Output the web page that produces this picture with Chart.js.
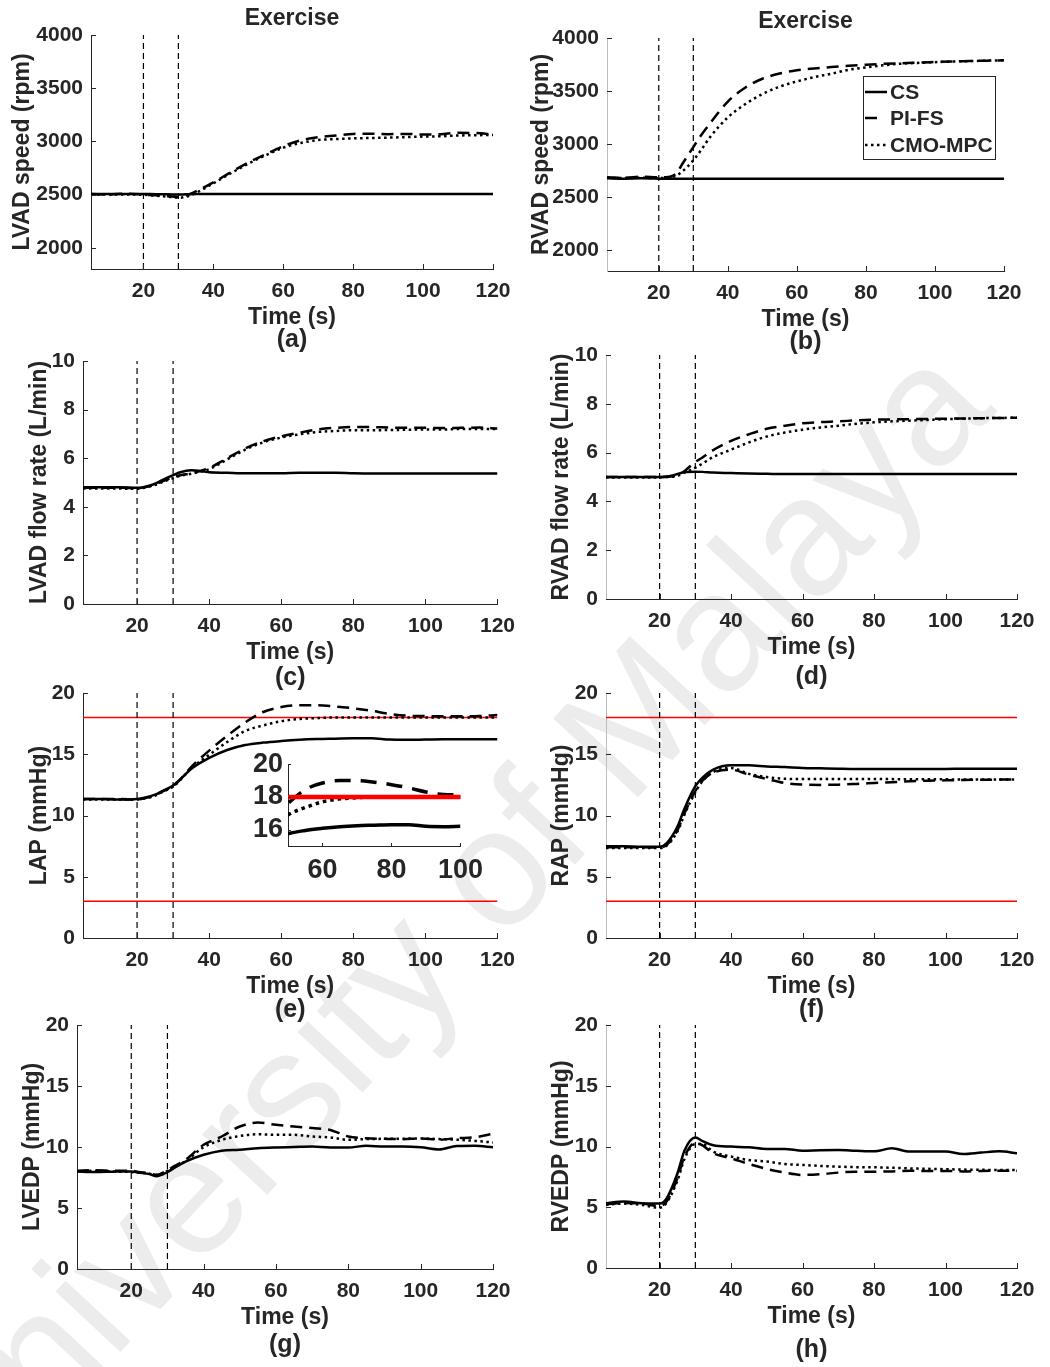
<!DOCTYPE html>
<html>
<head>
<meta charset="utf-8">
<script src="https://cdn.jsdelivr.net/npm/chart.js@4.4.0/dist/chart.umd.min.js"></script>
<style>
body { margin: 0; background: #fff; }
#page { position: relative; width: 1050px; height: 1367px; overflow: hidden; background: #fff; }
#page canvas { position: absolute; }
.wm {
  position: absolute; left: 440px; top: 925px;
  transform: translate(-50%, -50%) rotate(-47deg);
  font: 168px 'Liberation Sans', Arial, sans-serif;
  color: #ececec; white-space: nowrap;
}
</style>
</head>
<body>
<div id="page"><div class="wm">University of Malaya</div></div>
<script>
// time axis (s) and tick values
var time = [5,10,15,20,22,25,27,30,32,35,40,45,50,55,60,65,70,75,80,85,90,95,100,105,110,115,120];
var timeTicks = [20,40,60,80,100,120];
var speedTicks = [2000,2500,3000,3500,4000];
var flowTicks = [0,2,4,6,8,10];
var pressTicks = [0,5,10,15,20];
var insetTimeTicks = [60,80,100];
var insetPressTicks = [16,18,20];
var eventTimes = [20,30];
var atrialLimits = [3,18];
var seriesNames = ['CS','PI-FS','CMO-MPC'];

// (a) LVAD speed
var lvadSpeedCS  = [2505,2505,2506,2505,2504,2503,2502,2500,2502,2505,2505,2506,2505,2505,2505,2506,2506,2505,2505,2505,2506,2506,2505,2505,2505,2505,2505];
var lvadSpeedPI  = [2505,2500,2508,2500,2495,2490,2485,2478,2490,2530,2615,2710,2800,2880,2955,3010,3040,3055,3070,3072,3068,3070,3065,3068,3080,3078,3065];
var lvadSpeedMPC = [2500,2500,2500,2498,2492,2485,2480,2470,2478,2515,2605,2700,2790,2870,2940,2985,3012,3022,3028,3032,3035,3040,3045,3048,3055,3058,3060];
// (b) RVAD speed
var rvadSpeedCS  = [2675,2672,2675,2672,2670,2670,2670,2670,2670,2670,2670,2670,2670,2670,2670,2670,2671,2671,2671,2671,2670,2670,2670,2670,2670,2670,2670];
var rvadSpeedPI  = [2685,2680,2690,2685,2685,2720,2820,2970,3070,3200,3400,3530,3615,3665,3695,3712,3726,3738,3748,3756,3762,3768,3773,3778,3782,3786,3790];
var rvadSpeedMPC = [2680,2678,2680,2678,2680,2700,2745,2845,2930,3070,3250,3375,3470,3540,3590,3630,3663,3700,3722,3742,3757,3765,3772,3778,3782,3786,3790];
// (c) LVAD flow
var lvadFlowCS  = [4.8,4.8,4.8,4.78,4.82,4.95,5.1,5.3,5.42,5.5,5.42,5.4,5.38,5.38,5.38,5.4,5.4,5.4,5.38,5.37,5.37,5.37,5.37,5.37,5.37,5.37,5.37];
var lvadFlowPI  = [4.78,4.78,4.78,4.76,4.8,4.92,5.05,5.22,5.3,5.38,5.6,6.0,6.4,6.7,6.9,7.05,7.18,7.25,7.28,7.28,7.26,7.25,7.25,7.24,7.25,7.26,7.22];
var lvadFlowMPC = [4.75,4.75,4.75,4.74,4.78,4.9,5.02,5.18,5.27,5.36,5.55,5.95,6.35,6.65,6.85,6.98,7.08,7.12,7.15,7.15,7.16,7.17,7.18,7.18,7.2,7.2,7.2];
// (d) RVAD flow
var rvadFlowCS  = [5.0,5.0,5.0,5.0,5.02,5.12,5.2,5.22,5.21,5.18,5.16,5.14,5.13,5.12,5.12,5.12,5.12,5.12,5.12,5.12,5.12,5.12,5.12,5.12,5.12,5.12,5.12];
var rvadFlowPI  = [5.0,5.0,5.0,5.0,5.0,5.08,5.25,5.62,5.8,6.1,6.48,6.75,6.98,7.1,7.2,7.25,7.28,7.32,7.35,7.36,7.37,7.38,7.39,7.4,7.41,7.42,7.43];
var rvadFlowMPC = [4.98,4.98,4.98,4.98,5.0,5.05,5.18,5.38,5.55,5.82,6.12,6.42,6.66,6.82,6.94,7.03,7.1,7.18,7.24,7.28,7.31,7.34,7.37,7.39,7.41,7.42,7.43];
// (e) LAP
var lapCS  = [11.35,11.35,11.3,11.35,11.45,11.7,12.0,12.45,12.95,13.8,14.7,15.35,15.75,15.95,16.08,16.18,16.24,16.27,16.3,16.3,16.2,16.18,16.2,16.22,16.23,16.23,16.23];
var lapPI  = [11.35,11.35,11.35,11.3,11.4,11.65,11.95,12.4,12.95,13.95,15.3,16.5,17.6,18.45,18.85,19.0,19.0,18.9,18.75,18.55,18.3,18.15,18.12,18.1,18.1,18.12,18.2];
var lapMPC = [11.3,11.3,11.3,11.3,11.38,11.62,11.92,12.35,12.9,13.85,14.95,16.0,16.9,17.35,17.7,17.88,17.95,18.0,18.0,18.0,18.0,18.0,18.0,18.0,18.0,18.0,18.0];
// (f) RAP
var rapCS  = [7.5,7.5,7.45,7.45,7.75,9.1,10.6,12.4,13.1,13.75,14.1,14.1,14.0,13.95,13.88,13.85,13.82,13.8,13.8,13.8,13.8,13.8,13.8,13.82,13.82,13.82,13.82];
var rapPI  = [7.4,7.4,7.4,7.38,7.6,8.8,10.2,12.0,12.85,13.5,13.74,13.33,12.98,12.65,12.52,12.5,12.52,12.58,12.65,12.72,12.8,12.84,12.87,12.9,12.92,12.93,12.93];
var rapMPC = [7.35,7.35,7.35,7.35,7.55,8.7,10.1,11.9,12.8,13.55,13.88,13.4,13.14,13.0,12.98,12.98,12.98,12.98,12.98,12.97,12.96,12.95,12.95,12.94,12.94,12.93,12.93];
// (g) LVEDP
var lvedpCS  = [8.0,7.95,7.98,8.0,7.9,7.78,7.6,7.95,8.3,8.8,9.36,9.7,9.78,9.9,9.96,10.0,10.04,9.96,9.96,10.1,10.04,10.04,9.98,9.8,10.08,10.1,9.98];
var lvedpPI  = [8.05,8.1,8.05,8.05,7.95,7.85,7.72,8.1,8.45,8.95,10.18,10.86,11.68,12.0,11.82,11.68,11.55,11.4,10.86,10.72,10.67,10.64,10.7,10.6,10.72,10.8,11.08];
var lvedpMPC = [8.0,8.05,8.0,7.95,7.9,7.8,7.7,8.05,8.35,8.85,9.98,10.58,10.9,11.05,11.0,11.0,10.86,10.78,10.59,10.65,10.67,10.68,10.7,10.65,10.6,10.5,10.37];
// (h) RVEDP
var rvedpCS  = [5.33,5.47,5.33,5.3,5.75,7.8,9.7,10.75,10.45,10.1,9.99,9.93,9.8,9.8,9.66,9.7,9.71,9.65,9.6,9.85,9.58,9.58,9.58,9.38,9.5,9.6,9.45];
var rvedpPI  = [5.25,5.35,5.3,5.1,5.5,7.4,9.2,10.3,10.1,9.44,9.03,8.56,8.15,7.85,7.66,7.72,7.85,7.93,7.93,7.95,8.0,7.99,7.99,7.95,7.99,8.0,8.0];
var rvedpMPC = [5.2,5.3,5.2,4.95,5.4,7.2,9.0,10.2,10.2,9.58,9.17,8.89,8.76,8.56,8.48,8.4,8.34,8.3,8.29,8.25,8.2,8.16,8.13,8.1,8.08,8.07,8.07];

var INK = '#262626';
var FONT = "'Liberation Sans', Arial, sans-serif";
Chart.defaults.font.family = FONT;
Chart.defaults.font.weight = 'bold';
Chart.defaults.color = INK;

var page = document.getElementById('page');

function addCanvas(left, top, w, h) {
  var cv = document.createElement('canvas');
  cv.width = w; cv.height = h;
  cv.style.left = left + 'px'; cv.style.top = top + 'px';
  cv.style.width = w + 'px'; cv.style.height = h + 'px';
  page.appendChild(cv);
  return cv;
}

function xy(xs, ys) {
  return xs.map(function (x, i) { return { x: x, y: ys[i] }; });
}

function plain(v) { return String(v); }

function seriesSets(cs, pi, mpc, big) {
  var w = big ? 3.5 : 2.5;
  return [
    { label: seriesNames[0], data: xy(time, cs), borderColor: '#000', borderWidth: w },
    { label: seriesNames[1], data: xy(time, pi), borderColor: '#000', borderWidth: w, borderDash: big ? [16, 10] : [12, 7] },
    { label: seriesNames[2], data: xy(time, mpc), borderColor: '#000', borderWidth: w, borderDash: big ? [3.5, 4] : [2.5, 3.5] }
  ];
}

function straight(d) {
  d.cubicInterpolationMode = 'default';
  d.tension = 0;
  return d;
}

// inward tick marks, captions, heading and legend
var decor = {
  id: 'decor',
  afterDraw: function (chart, args, o) {
    var ctx = chart.ctx, a = chart.chartArea, xs = chart.scales.x, ys = chart.scales.y;
    ctx.save();
    ctx.strokeStyle = INK;
    ctx.lineWidth = 1;
    ctx.beginPath();
    xs.ticks.forEach(function (t) {
      var px = Math.round(xs.getPixelForValue(t.value)) + 0.5;
      ctx.moveTo(px, a.bottom); ctx.lineTo(px, a.bottom - o.tick);
    });
    ys.ticks.forEach(function (t) {
      var py = Math.round(ys.getPixelForValue(t.value)) + 0.5;
      ctx.moveTo(a.left, py); ctx.lineTo(a.left + o.tick, py);
    });
    ctx.stroke();
    ctx.fillStyle = INK;
    ctx.textAlign = 'center';
    ctx.textBaseline = 'middle';
    var cx = (a.left + a.right) / 2;
    if (o.caption) {
      ctx.font = 'bold 25px ' + FONT;
      ctx.fillText(o.caption, cx, a.bottom + o.captionGap);
    }
    if (o.heading) {
      ctx.font = 'bold 23px ' + FONT;
      ctx.fillText(o.heading, cx, a.top - 16);
    }
    if (o.legend) {
      var g = o.legend;
      ctx.fillStyle = '#fff';
      ctx.fillRect(g.x, g.y, g.w, g.h);
      ctx.strokeStyle = INK;
      ctx.strokeRect(g.x + 0.5, g.y + 0.5, g.w, g.h);
      ctx.textAlign = 'left';
      ctx.font = 'bold 21px ' + FONT;
      chart.data.datasets.forEach(function (ds) {
        var i = seriesNames.indexOf(ds.label);
        if (i < 0) return;
        var y = g.y + g.rows[i];
        var dash = ds.borderDash || [];
        // a dashed sample shows a single dash
        var len = dash.length && dash[0] > 6 ? dash[0] + 1 : 22;
        ctx.strokeStyle = ds.borderColor;
        ctx.lineWidth = ds.borderWidth;
        ctx.setLineDash(dash);
        ctx.beginPath();
        ctx.moveTo(g.x + 2, y); ctx.lineTo(g.x + 2 + len, y);
        ctx.stroke();
        ctx.setLineDash([]);
        ctx.fillStyle = INK;
        ctx.fillText(ds.label, g.x + 27, y + 1);
      });
    }
    ctx.restore();
  }
};

function makePanel(p) {
  var colLeft = p.R < 525 ? 0 : 525;
  var cvTop = p.T - 35;
  var cv = addCanvas(colLeft, cvTop, 525, (p.B - p.T) + 35 + 95);
  var sets = seriesSets(p.cs, p.pi, p.mpc, false);
  eventTimes.forEach(function (t) {
    sets.push(straight({ label: 'event', data: xy([t, t], [p.yMin, p.yMax]), borderColor: '#000', borderWidth: 1.2, borderDash: [6, 4] }));
  });
  if (p.limits) {
    p.limits.forEach(function (v) {
      sets.push(straight({ label: 'limit', data: xy([5, 120], [v, v]), borderColor: '#ff0000', borderWidth: 1.6 }));
    });
  }
  var legend = null;
  if (p.legend) {
    legend = { x: 863 - colLeft, y: 76 - cvTop, w: 132, h: 83, rows: [16, 42, 69] };
  }
  new Chart(cv, {
    type: 'line',
    data: { datasets: sets },
    options: {
      responsive: false,
      animation: false,
      layout: { padding: { left: 0, top: 35, right: colLeft + 525 - p.R, bottom: 0 } },
      elements: { point: { radius: 0 }, line: { cubicInterpolationMode: 'monotone', borderCapStyle: 'butt' } },
      plugins: {
        legend: { display: false },
        tooltip: { enabled: false },
        decor: { tick: 5, caption: p.caption, captionGap: p.capGap, heading: p.heading, legend: legend }
      },
      scales: {
        x: {
          type: 'linear', min: 5, max: 120,
          grid: { display: false, drawTicks: false },
          border: { display: true, color: INK, width: 1 },
          afterBuildTicks: function (s) { s.ticks = timeTicks.map(function (v) { return { value: v }; }); },
          afterFit: function (s) { s.height = 95; },
          ticks: { autoSkip: false, maxRotation: 0, padding: 10, color: INK, font: { size: 21 }, callback: plain },
          title: { display: true, text: 'Time (s)', color: INK, font: { size: 23 }, padding: { top: 0, bottom: 32.2 } }
        },
        y: {
          type: 'linear', min: p.yMin, max: p.yMax,
          grid: { display: false, drawTicks: false },
          border: { display: true, color: colLeft ? '#bdbdbd' : INK, width: 1 },
          afterBuildTicks: function (s) { s.ticks = p.yTicks.map(function (v) { return { value: v }; }); },
          afterFit: function (s) { s.width = p.L - colLeft; },
          ticks: { autoSkip: false, padding: 8, color: INK, font: { size: 21 }, callback: plain },
          title: { display: true, text: p.yTitle, color: INK, font: { size: 23 }, padding: { top: p.titleX - colLeft - 13.8, bottom: 0 } }
        }
      }
    },
    plugins: [decor]
  });
}

function makeInset() {
  var L = 288, R = 463, T = 761, B = 846;
  var cvLeft = 218, cvTop = T - 18, w = 273, h = 18 + (B - T) + 45;
  var cv = addCanvas(cvLeft, cvTop, w, h);
  var sets = seriesSets(lapCS, lapPI, lapMPC, true);
  sets.unshift(straight({ label: 'limit', data: xy([5, 120], [atrialLimits[1], atrialLimits[1]]), borderColor: '#ff0000', borderWidth: 4.5 }));
  new Chart(cv, {
    type: 'line',
    data: { datasets: sets },
    options: {
      responsive: false,
      animation: false,
      layout: { padding: { left: 0, top: 18, right: cvLeft + w - R, bottom: 0 } },
      elements: { point: { radius: 0 }, line: { cubicInterpolationMode: 'monotone', borderCapStyle: 'butt' } },
      plugins: { legend: { display: false }, tooltip: { enabled: false }, decor: { tick: 3 } },
      scales: {
        x: {
          type: 'linear', min: 50, max: 100,
          grid: { display: false, drawTicks: false },
          border: { display: true, color: INK, width: 1 },
          afterBuildTicks: function (s) { s.ticks = insetTimeTicks.map(function (v) { return { value: v }; }); },
          afterFit: function (s) { s.height = 45; },
          ticks: { autoSkip: false, maxRotation: 0, padding: 8, color: INK, font: { size: 27 }, callback: plain }
        },
        y: {
          type: 'linear', min: 15, max: 20,
          grid: { display: false, drawTicks: false },
          border: { display: true, color: INK, width: 1 },
          afterBuildTicks: function (s) { s.ticks = insetPressTicks.map(function (v) { return { value: v }; }); },
          afterFit: function (s) { s.width = L - cvLeft; },
          ticks: { autoSkip: false, padding: 5, color: INK, font: { size: 27 }, callback: plain }
        }
      }
    },
    plugins: [decor]
  });
}

var panels = [
  { L: 91,  R: 493,  T: 35,   B: 269,  yMin: 1800, yMax: 4000, yTicks: speedTicks, yTitle: 'LVAD speed (rpm)', titleX: 23, caption: '(a)', capGap: 71, heading: 'Exercise', cs: lvadSpeedCS, pi: lvadSpeedPI, mpc: lvadSpeedMPC },
  { L: 607, R: 1004, T: 38,   B: 271,  yMin: 1800, yMax: 4000, yTicks: speedTicks, yTitle: 'RVAD speed (rpm)', titleX: 542, caption: '(b)', capGap: 71, heading: 'Exercise', legend: true, cs: rvadSpeedCS, pi: rvadSpeedPI, mpc: rvadSpeedMPC },
  { L: 83,  R: 502,  T: 361,  B: 604,  yMin: 0, yMax: 10, yTicks: flowTicks, yTitle: 'LVAD flow rate (L/min)', titleX: 40, caption: '(c)', capGap: 74, cs: lvadFlowCS, pi: lvadFlowPI, mpc: lvadFlowMPC },
  { L: 606, R: 1017, T: 355,  B: 599,  yMin: 0, yMax: 10, yTicks: flowTicks, yTitle: 'RVAD flow rate (L/min)', titleX: 562, caption: '(d)', capGap: 78, cs: rvadFlowCS, pi: rvadFlowPI, mpc: rvadFlowMPC },
  { L: 83,  R: 502,  T: 693,  B: 938,  yMin: 0, yMax: 20, yTicks: pressTicks, yTitle: 'LAP (mmHg)', titleX: 40, caption: '(e)', capGap: 72, limits: atrialLimits, cs: lapCS, pi: lapPI, mpc: lapMPC },
  { L: 606, R: 1017, T: 693,  B: 938,  yMin: 0, yMax: 20, yTicks: pressTicks, yTitle: 'RAP (mmHg)', titleX: 562, caption: '(f)', capGap: 72, limits: atrialLimits, cs: rapCS, pi: rapPI, mpc: rapMPC },
  { L: 77,  R: 493,  T: 1025, B: 1269, yMin: 0, yMax: 20, yTicks: pressTicks, yTitle: 'LVEDP (mmHg)', titleX: 33, caption: '(g)', capGap: 76, cs: lvedpCS, pi: lvedpPI, mpc: lvedpMPC },
  { L: 606, R: 1017, T: 1025, B: 1268, yMin: 0, yMax: 20, yTicks: pressTicks, yTitle: 'RVEDP (mmHg)', titleX: 562, caption: '(h)', capGap: 82, cs: rvedpCS, pi: rvedpPI, mpc: rvedpMPC }
];

panels.forEach(makePanel);
makeInset();
</script>
</body>
</html>
